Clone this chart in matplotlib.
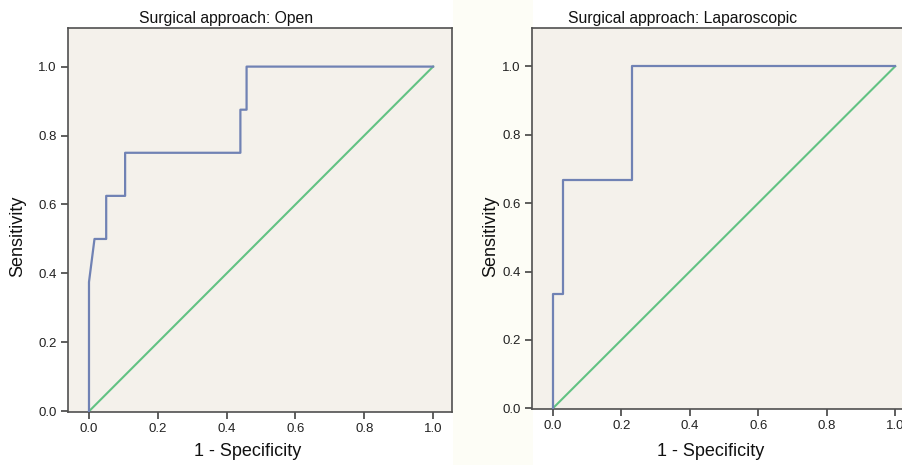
import matplotlib
matplotlib.use("Agg")
import matplotlib.pyplot as plt
from matplotlib.patches import Rectangle

plt.rcParams['font.family'] = ['Liberation Sans', 'DejaVu Sans']

# ROC data (1 - specificity, sensitivity)
open_fpr = [0.0, 0.0, 0.016, 0.05, 0.05, 0.105, 0.105, 0.44, 0.44, 0.458, 0.458, 1.0]
open_tpr = [0.0, 0.375, 0.5, 0.5, 0.625, 0.625, 0.75, 0.75, 0.875, 0.875, 1.0, 1.0]
lap_fpr = [0.0, 0.0, 0.03, 0.03, 0.23, 0.23, 1.0]
lap_tpr = [0.0, 0.333, 0.333, 0.667, 0.667, 1.0, 1.0]
ref_line = [0.0, 1.0]
titles = ["Surgical approach: Open", "Surgical approach: Laparoscopic"]
ticks = [0.0, 0.2, 0.4, 0.6, 0.8, 1.0]
tick_labels = ["0.0", "0.2", "0.4", "0.6", "0.8", "1.0"]

W, H = 903, 465
fig = plt.figure(figsize=(W / 100, H / 100), dpi=100)
fig.patch.set_facecolor("white")
fig.patches.append(Rectangle((453 / W, 0), 80 / W, 1, transform=fig.transFigure,
                             facecolor="#fdfdf6", edgecolor="none", zorder=-1))

def px_axes(x0, y0, x1, y1):
    return fig.add_axes([x0 / W, 1 - y1 / H, (x1 - x0) / W, (y1 - y0) / H])

ax1 = px_axes(68, 28, 452, 412)
ax2 = px_axes(532, 28, 914, 409)

blue = "#7082b4"
green = "#62c283"
face = "#f4f1eb"

for ax, fpr, tpr in [(ax1, open_fpr, open_tpr), (ax2, lap_fpr, lap_tpr)]:
    ax.set_facecolor(face)
    ax.plot(ref_line, ref_line, color=green, lw=1.5, zorder=2)
    ax.plot(fpr, tpr, color=blue, lw=1.6, zorder=3)
    ax.set_xlim(-0.061, 1.055)
    ax.set_ylim(-0.002, 1.112)
    ax.set_xticks(ticks)
    ax.set_xticklabels(tick_labels)
    ax.set_yticks(ticks)
    ax.set_yticklabels(tick_labels)
    ax.tick_params(direction="out", length=5, width=1.1, color="#333333",
                   labelsize=9.5, labelcolor="#222222", pad=3)
    for s in ax.spines.values():
        s.set_color("#505050")
        s.set_linewidth(1.2)

# titles and axis labels
fig.text(226 / W, 1 - 18 / H, titles[0], ha="center", va="center", fontsize=11.3, color="#111111")
fig.text(683 / W, 1 - 18 / H, titles[1], ha="center", va="center", fontsize=11.3, color="#111111")
fig.text(248 / W, 1 - 451 / H, "1 - Specificity", ha="center", va="center", fontsize=13, color="#111111")
fig.text(711 / W, 1 - 451 / H, "1 - Specificity", ha="center", va="center", fontsize=13, color="#111111")
fig.text(18 / W, 1 - 236 / H, "Sensitivity", ha="center", va="center", rotation=90, fontsize=13, color="#111111")
fig.text(491 / W, 1 - 236 / H, "Sensitivity", ha="center", va="center", rotation=90, fontsize=13, color="#111111")

fig.savefig("out.png", dpi=100)
